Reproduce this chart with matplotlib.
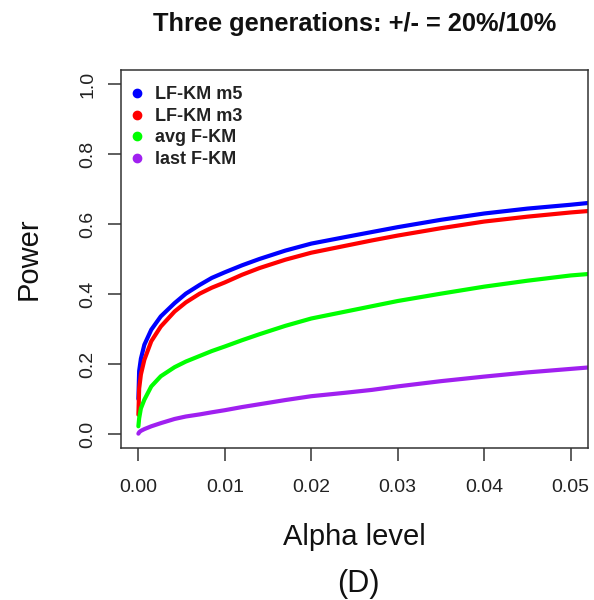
import matplotlib
matplotlib.use("Agg")
import matplotlib.pyplot as plt
from matplotlib.lines import Line2D

plt.rcParams['font.family'] = ['Liberation Sans', 'DejaVu Sans']

# ---- data ----
alpha = [0.00001, 0.0001, 0.0003, 0.0007, 0.0015, 0.0026, 0.0042, 0.0055, 0.0071,
         0.0085, 0.010, 0.012, 0.014, 0.017, 0.020, 0.024, 0.027, 0.030, 0.035,
         0.040, 0.045, 0.050, 0.052]
lfkm_m5 = [0.10, 0.18, 0.215, 0.255, 0.298, 0.336, 0.374, 0.401, 0.426,
           0.446, 0.462, 0.482, 0.500, 0.524, 0.544, 0.563, 0.577, 0.591, 0.612,
           0.630, 0.644, 0.655, 0.660]
lfkm_m3 = [0.055, 0.13, 0.17, 0.212, 0.265, 0.307, 0.350, 0.376, 0.401,
           0.418, 0.433, 0.455, 0.474, 0.498, 0.518, 0.538, 0.553, 0.567, 0.588,
           0.607, 0.621, 0.633, 0.637]
avg_fkm = [0.022, 0.045, 0.073, 0.098, 0.136, 0.165, 0.191, 0.207, 0.223,
           0.237, 0.250, 0.268, 0.285, 0.309, 0.330, 0.350, 0.365, 0.380, 0.401,
           0.421, 0.438, 0.453, 0.457]
last_fkm = [0.001, 0.005, 0.009, 0.014, 0.022, 0.031, 0.043, 0.050, 0.056,
            0.062, 0.068, 0.077, 0.085, 0.097, 0.108, 0.118, 0.126, 0.136, 0.151,
            0.164, 0.176, 0.186, 0.190]

series_labels = ["LF-KM m5", "LF-KM m3", "avg F-KM", "last F-KM"]
series_colors = ["#0000FF", "#FF0000", "#00FF00", "#A020F0"]
x_ticks = [0.00, 0.01, 0.02, 0.03, 0.04, 0.05]
x_ticklabels = ["0.00", "0.01", "0.02", "0.03", "0.04", "0.05"]
y_ticks = [0.0, 0.2, 0.4, 0.6, 0.8, 1.0]
y_ticklabels = ["0.0", "0.2", "0.4", "0.6", "0.8", "1.0"]

W, H = 594, 600
fig = plt.figure(figsize=(W / 100, H / 100), dpi=100)
L, R, T, B = 121, 588, 70, 448
ax = fig.add_axes([L / W, 1 - B / H, (R - L) / W, (B - T) / H])

for ys, c in zip([lfkm_m5, lfkm_m3, avg_fkm, last_fkm], series_colors):
    ax.plot(alpha, ys, color=c, lw=3.0, solid_capstyle='round', solid_joinstyle='round')

ax.set_xlim(-0.002, 0.052)
ax.set_ylim(-0.04, 1.04)
ax.set_xticks(x_ticks)
ax.set_xticklabels(x_ticklabels)
ax.set_yticks(y_ticks)
ax.set_yticklabels(y_ticklabels, rotation=90, va='center')
ax.tick_params(axis='both', direction='out', length=9.5, width=1.1, colors='#333333',
               labelcolor='#222222', labelsize=14)
ax.tick_params(axis='x', pad=13)
ax.tick_params(axis='y', pad=8)
for s in ax.spines.values():
    s.set_color('#333333')
    s.set_linewidth(1.1)

handles = [Line2D([], [], marker='o', ls='none', color=c, markersize=6) for c in series_colors]
leg = ax.legend(handles, series_labels, loc='upper left', bbox_to_anchor=(-0.008, 0.99),
                frameon=False, handlelength=0.8, handletextpad=0.6, labelspacing=0.25,
                borderaxespad=0.3, prop={'weight': 'bold', 'size': 13})
for t in leg.get_texts():
    t.set_color('#222222')

fig.text((L + R) / 2 / W, 1 - 31 / H, "Three generations: +/- = 20%/10%",
         ha='center', va='baseline', fontsize=18.3, fontweight='bold', color='#111111')
fig.text((L + R) / 2 / W, 1 - 545 / H, "Alpha level", ha='center', va='baseline',
         fontsize=21, color='#111111')
fig.text(29 / W, 1 - 259 / H, "Power", ha='center', va='center', rotation=90,
         fontsize=21, color='#111111')
fig.text(358 / W, 1 - 592 / H, "(D)", ha='center', va='baseline', fontsize=22,
         color='#111111')

fig.savefig("out.png", dpi=100)
